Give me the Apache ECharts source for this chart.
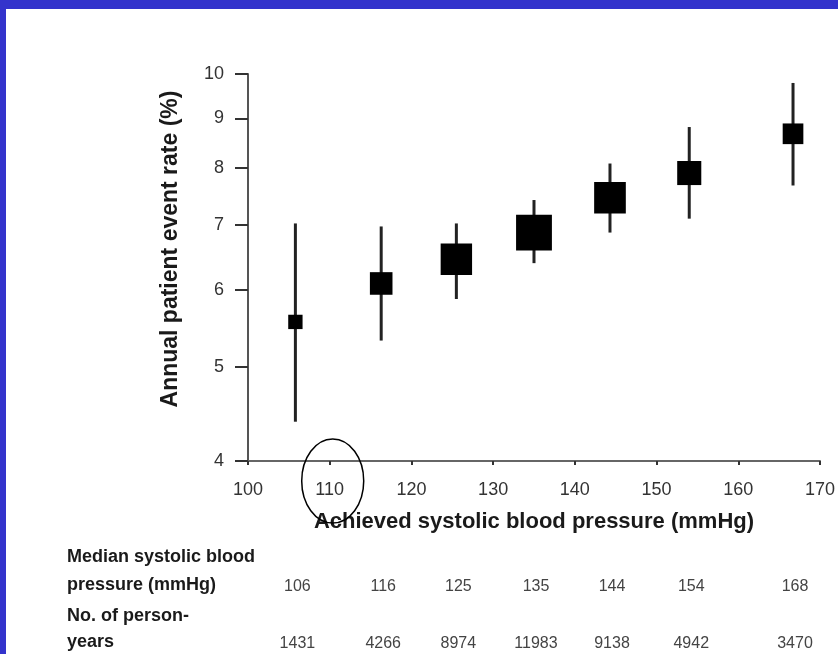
<!DOCTYPE html>
<html><head><meta charset="utf-8">
<script src="https://cdn.jsdelivr.net/npm/echarts@6/dist/echarts.min.js"></script>
<style>html,body{margin:0;padding:0;background:#fff}#c{width:838px;height:654px}</style>
</head><body><div id="c"></div>
<script>
// ---- data ----
const medianSBP   = [106, 116, 125, 135, 144, 154, 168];
const personYears = [1431, 4266, 8974, 11983, 9138, 4942, 3470];
const plotSBP     = [105.8, 116.3, 125.5, 135, 144.3, 154, 166.7];
const eventRate   = [5.56, 6.09, 6.45, 6.87, 7.46, 7.91, 8.68];
const ciLow       = [4.39, 5.32, 5.87, 6.39, 6.87, 7.10, 7.68];
const ciHigh      = [7.02, 6.97, 7.02, 7.42, 8.09, 8.82, 9.79];
const yTicks      = [4, 5, 6, 7, 8, 9, 10];
const xMin = 100, xMax = 170, xStep = 10;
const highlightSBP = 110;
const yTitle = 'Annual patient event rate (%)';
const xTitle = 'Achieved systolic blood pressure (mmHg)';
const rowLabels = [['Median systolic blood', 'pressure (mmHg)'], ['No. of person-', 'years']];

const FONT = '"Liberation Sans", Arial, Helvetica, sans-serif';
const chart = echarts.init(document.getElementById('c'), null, {renderer: 'canvas'});

function renderItem(params, api) {
  const x = api.value(0);
  const c = api.coord([x, api.value(1)]);
  const lo = api.coord([x, api.value(2)]);
  const hi = api.coord([x, api.value(3)]);
  const s = 3 + 0.3 * Math.sqrt(api.value(4));
  return {
    type: 'group',
    children: [
      {type: 'line', shape: {x1: c[0], y1: hi[1], x2: c[0], y2: lo[1]}, style: {stroke: '#222', lineWidth: 3}},
      {type: 'rect', shape: {x: c[0] - s / 2, y: c[1] - s / 2, width: s, height: s}, style: {fill: '#000'}}
    ]
  };
}

chart.setOption({
  animation: false,
  backgroundColor: '#fff',
  grid: {left: 248, top: 74, right: 13, bottom: 193, containLabel: false},
  xAxis: {
    type: 'value', min: xMin, max: xMax, interval: xStep,
    name: xTitle, nameLocation: 'middle', nameGap: 50,
    nameTextStyle: {fontFamily: FONT, fontSize: 22, fontWeight: 'bold', color: '#1a1a1a'},
    axisLine: {show: true, onZero: false, lineStyle: {color: '#666', width: 2}},
    axisTick: {show: true, length: 4, lineStyle: {color: '#333', width: 2}},
    axisLabel: {margin: 20, fontSize: 18, color: '#333', fontFamily: FONT},
    splitLine: {show: false}
  },
  yAxis: {
    type: 'log', logBase: 10, min: 4, max: 10,
    axisLine: {show: true, lineStyle: {color: '#555', width: 2}},
    axisTick: {show: true, length: 13, customValues: yTicks, lineStyle: {color: '#333', width: 2}},
    axisLabel: {customValues: yTicks, margin: 24, fontSize: 18, color: '#333', fontFamily: FONT},
    splitLine: {show: false}
  },
  series: [{
    type: 'custom',
    renderItem: renderItem,
    data: plotSBP.map((x, i) => [x, eventRate[i], ciLow[i], ciHigh[i], personYears[i]]),
    encode: {x: 0, y: [1, 2, 3]},
    clip: false
  }]
});

// annotations: frame, y title, ellipse, table
const axisY = chart.convertToPixel({gridIndex: 0}, [xMin, 4])[1];
const g = [
  {type: 'rect', shape: {x: 0, y: 0, width: 838, height: 9}, style: {fill: '#3333CC'}, z: 100},
  {type: 'rect', shape: {x: 0, y: 0, width: 6, height: 654}, style: {fill: '#3333CC'}, z: 100},
  {type: 'text', x: 171, y: 249, rotation: Math.PI / 2,
   style: {text: yTitle, fontFamily: FONT, fontSize: 23, fontWeight: 'bold', fill: '#1a1a1a', align: 'center', verticalAlign: 'middle'}},
];
const hx = chart.convertToPixel({xAxisIndex: 0}, highlightSBP);
g.push({type: 'ellipse', shape: {cx: hx + 3, cy: axisY + 20, rx: 31, ry: 42}, style: {fill: 'none', stroke: '#000', lineWidth: 1.5}, z: 50});

const rowY = [[557, 585], [616, 642]];
rowLabels.forEach((lines, r) => {
  lines.forEach((t, k) => {
    g.push({type: 'text', x: 67, y: rowY[r][k], style: {text: t, fontFamily: FONT, fontSize: 18, fontWeight: 'bold', fill: '#1a1a1a', align: 'left', verticalAlign: 'middle'}});
  });
});
const rowVals = [medianSBP, personYears];
rowVals.forEach((vals, r) => {
  vals.forEach((v, i) => {
    const px = chart.convertToPixel({xAxisIndex: 0}, plotSBP[i]);
    g.push({type: 'text', x: px + 2, y: rowY[r][1] + 2, style: {text: String(v), fontFamily: FONT, fontSize: 16, fill: '#444', align: 'center', verticalAlign: 'middle'}});
  });
});
chart.setOption({graphic: g});
</script>
</body></html>
